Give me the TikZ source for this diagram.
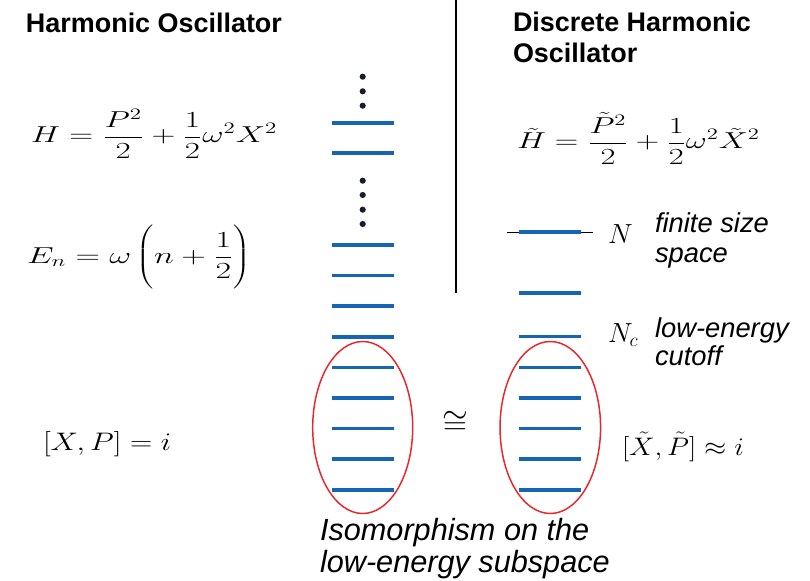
\documentclass[tikz,border=0pt]{standalone}
\usepackage{fontspec}
\setsansfont{Liberation Sans}
\usetikzlibrary{positioning}
\definecolor{LvlBlue}{HTML}{1565B4}
\definecolor{RingRed}{HTML}{E8262B}
\definecolor{DotNavy}{HTML}{141C33}
\newcommand{\wide}[2]{\scalebox{#1}[1]{#2}}

\begin{document}
\begin{tikzpicture}[x=0.75pt,y=-0.75pt,
  every node/.style={inner sep=0pt,outer sep=0pt},
  title/.style={font=\sffamily\bfseries\fontsize{20.2}{24}\selectfont,anchor=base west},
  eqn/.style={font=\fontsize{18.5}{22}\selectfont,anchor=base west},
  note/.style={font=\sffamily\itshape\fontsize{20.5}{24}\selectfont,anchor=base west},
  big/.style={font=\sffamily\itshape\fontsize{23}{26}\selectfont,anchor=base west},
  level/.style={draw=LvlBlue,line width=2.8pt},
  ring/.style={draw=RingRed,line width=1.1pt},
  divider/.style={draw=black,line width=0.9pt}
]
  \useasboundingbox (0,0) rectangle (810,581);

  % headings
  \node[title] (hotitle) at (26,33) {Harmonic Oscillator};
  \node[title] (dhotitle) at (513,32) {Discrete Harmonic};
  \node[title] (dhotitleb) at (513,63) {Oscillator};
  \draw[divider] (456,0) -- (456,293);

  % continuum side
  \node[eqn] (ham) at (31,143)
    {\wide{1.43}{$\displaystyle H=\frac{P^2}{2}+\frac{1}{2}\omega^2X^2$}};
  \node[eqn] (energy) at (27,263)
    {\wide{1.47}{$\displaystyle E_n=\omega\left(\vcenter{\hbox{\rule{0pt}{50pt}}}n+\frac{1}{2}\right)$}};
  \node[eqn] (ccr) at (43,450)
    {\scalebox{1.34}[1.1]{$\bigl[X,P\bigr]=i$}};

  % discrete side
  \node[eqn] (dham) at (517,149)
    {\wide{1.41}{$\displaystyle \tilde H=\frac{\tilde P^2}{2}+\frac{1}{2}\omega^2\tilde X^2$}};
  \node[eqn] (dccr) at (622,455)
    {\scalebox{1.24}[1.1]{$\bigl[\tilde X,\tilde P\bigr]\approx i$}};

  % ladders
  \foreach \y in {76.7,91.3,105.7,180.7,195,209.7,224}
    \fill[DotNavy] (362.7,\y) circle[radius=2.3pt];
  \foreach \y in {122.7,153.3,245,275.6,306.2,336.8,367.4,398,428.6,459.2,489.8}
    \draw[level] (332,\y) -- (394,\y);

  \draw[black,line width=0.8pt] (506.7,232.3) -- (593.3,232.3);
  \foreach \y in {232.3,293.3,336.5,367.4,398,428.6,459.2,489.8}
    \draw[level] (519,\y) -- (581,\y);

  \node[eqn,font=\fontsize{20}{24}\selectfont] (ntop) at (608,243) {$N$};
  \node[note] (ntopnote) at (655,232) {finite size};
  \node[note] (ntopnoteb) at (655,262) {space};
  \node[eqn,font=\fontsize{20}{24}\selectfont] (ncut) at (608,342) {$N_c$};
  \node[note] (ncutnote) at (655,337) {low-energy};
  \node[note] (ncutnoteb) at (655,365) {cutoff};

  % low-energy blocks
  \draw[ring] (362.7,427.5) ellipse[x radius=37.5pt,y radius=64.5pt];
  \draw[ring] (550.3,427.5) ellipse[x radius=37.7pt,y radius=64.5pt];
  \node[font=\fontsize{44}{48}\selectfont] (iso) at (455,423) {$\cong$};

  \node[big] (isonote) at (320,540) {Isomorphism on the};
  \node[big] (isonoteb) at (320,572) {low-energy subspace};
\end{tikzpicture}
\end{document}
